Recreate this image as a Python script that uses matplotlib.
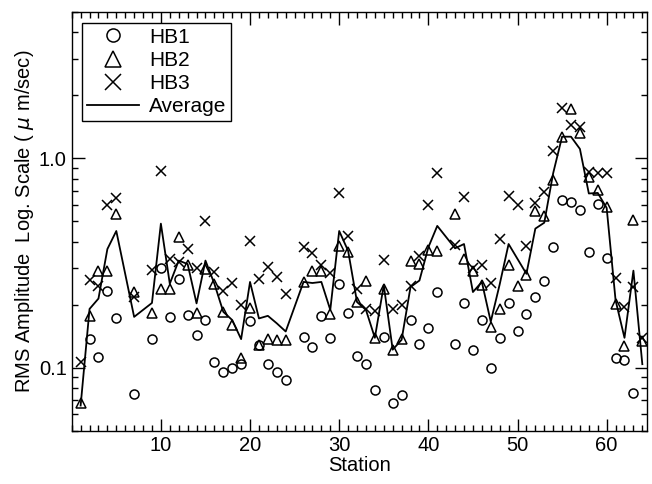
import numpy as np
import matplotlib
matplotlib.use("Agg")
import matplotlib.pyplot as plt
from matplotlib.ticker import MultipleLocator, FixedLocator, LogLocator, NullFormatter

plt.rcParams['font.family'] = ['Liberation Sans', 'DejaVu Sans']

nan = np.nan
stations = np.arange(1, 65)

# RMS amplitudes (um/sec); nan = no reading
hb1 = [nan, 0.137, 0.113, 0.233, 0.172, nan, 0.075, nan, 0.137, 0.300,
       0.175, 0.266, 0.179, 0.143, 0.169, 0.106, 0.095, 0.100, 0.104, 0.168,
       0.128, 0.104, 0.095, 0.087, nan, 0.141, 0.125, 0.177, 0.139, 0.250,
       0.183, 0.114, 0.104, 0.078, 0.140, 0.068, 0.074, 0.170, 0.130, 0.155,
       0.229, nan, 0.130, 0.203, 0.122, 0.169, 0.100, 0.139, 0.203, 0.150,
       0.180, 0.218, 0.259, 0.376, 0.631, 0.617, 0.570, 0.356, 0.609, 0.334,
       0.111, 0.109, 0.076, nan]
hb2 = [0.068, 0.177, 0.291, 0.291, 0.544, nan, 0.229, nan, 0.183, 0.239,
       0.239, 0.422, 0.311, 0.183, 0.297, 0.252, 0.185, 0.160, 0.111, 0.192,
       0.128, 0.137, 0.136, 0.136, nan, 0.257, 0.289, 0.291, 0.181, 0.383,
       0.356, 0.206, 0.260, 0.139, 0.239, 0.121, 0.137, 0.325, 0.313, 0.365,
       0.360, nan, 0.540, 0.331, 0.290, 0.249, 0.157, 0.191, 0.310, 0.246,
       0.278, 0.560, 0.530, 0.790, 1.265, 1.720, 1.320, 0.813, 0.709, 0.587,
       0.201, 0.127, 0.508, 0.134]
hb3 = [0.106, 0.263, 0.245, 0.597, 0.647, nan, 0.217, nan, 0.294, 0.871,
       0.331, 0.319, 0.369, 0.300, 0.502, 0.286, 0.233, 0.254, 0.199, 0.401,
       0.266, 0.302, 0.271, 0.226, nan, 0.378, 0.352, 0.308, 0.283, 0.684,
       0.427, 0.239, 0.190, 0.187, 0.327, 0.190, 0.199, 0.245, 0.340, 0.597,
       0.850, nan, 0.384, 0.654, 0.300, 0.308, 0.255, 0.411, 0.659, 0.602,
       0.383, 0.613, 0.689, 1.090, 1.750, 1.440, 1.420, 0.865, 0.849, 0.849,
       0.268, 0.194, 0.243, 0.139]
average = [0.066, 0.191, 0.214, 0.369, 0.450, nan, 0.175, nan, 0.204, 0.488,
           0.252, 0.325, 0.313, 0.203, 0.325, 0.252, 0.185, 0.169, 0.137, 0.257,
           0.172, 0.177, 0.163, 0.149, nan, 0.257, 0.254, 0.257, 0.189, 0.450,
           0.362, 0.206, 0.189, 0.139, 0.248, 0.122, 0.136, 0.243, 0.261, 0.376,
           0.476, nan, 0.372, 0.390, 0.230, 0.257, 0.166, 0.250, 0.390, 0.331,
           0.281, 0.462, 0.493, 0.850, 1.270, 1.270, 1.110, 0.680, 0.684, 0.580,
           0.210, 0.139, 0.291, 0.104]

hb1, hb2, hb3, average = map(np.array, (hb1, hb2, hb3, average))

fig = plt.figure(figsize=(6.52, 4.84), dpi=100)
ax = fig.add_axes([0.110, 0.110, 0.882, 0.865])

ax.plot(stations, hb1, 'o', ms=6.5, mfc='none', mec='black', mew=1.1, ls='none', label='HB1')
ax.plot(stations, hb2, '^', ms=7.5, mfc='none', mec='black', mew=1.1, ls='none', label='HB2')
ax.plot(stations, hb3, 'x', ms=7.5, color='black', mew=1.1, ls='none', label='HB3')
ok = ~np.isnan(average)
ax.plot(stations[ok], average[ok], '-', color='black', lw=1.3, label='Average')

ax.set_yscale('log')
ax.set_xlim(0, 64.5)
ax.set_ylim(0.05, 5)

ax.xaxis.set_major_locator(FixedLocator([10, 20, 30, 40, 50, 60]))
ax.xaxis.set_minor_locator(MultipleLocator(1))
ax.yaxis.set_major_locator(FixedLocator([0.1, 1.0]))
ax.yaxis.set_major_formatter(plt.FuncFormatter(lambda v, p: f"{v:.1f}"))
ax.yaxis.set_minor_locator(LogLocator(base=10, subs=np.arange(2, 10)))
ax.yaxis.set_minor_formatter(NullFormatter())

ax.tick_params(which='both', direction='in', top=True, right=True, width=1.0,
               labelsize=14.5, colors='black')
ax.tick_params(which='major', length=9)
ax.tick_params(which='minor', length=4.5)
for sp in ax.spines.values():
    sp.set_linewidth(1.0)

ax.set_xlabel('Station', fontsize=14.5, labelpad=1)
ax.set_ylabel(r'RMS Amplitude  Log. Scale ( $\mu$ m/sec)', fontsize=14.5, labelpad=2)

leg = ax.legend(loc='upper left', fontsize=15, frameon=True, fancybox=False,
                edgecolor='black', markerscale=1.45, handlelength=2.5,
                handletextpad=0.45, borderpad=0.25, labelspacing=0.2,
                borderaxespad=0.5)
leg.get_frame().set_linewidth(1.0)
leg.get_frame().set_alpha(1)

fig.savefig('out.png', dpi=100)
